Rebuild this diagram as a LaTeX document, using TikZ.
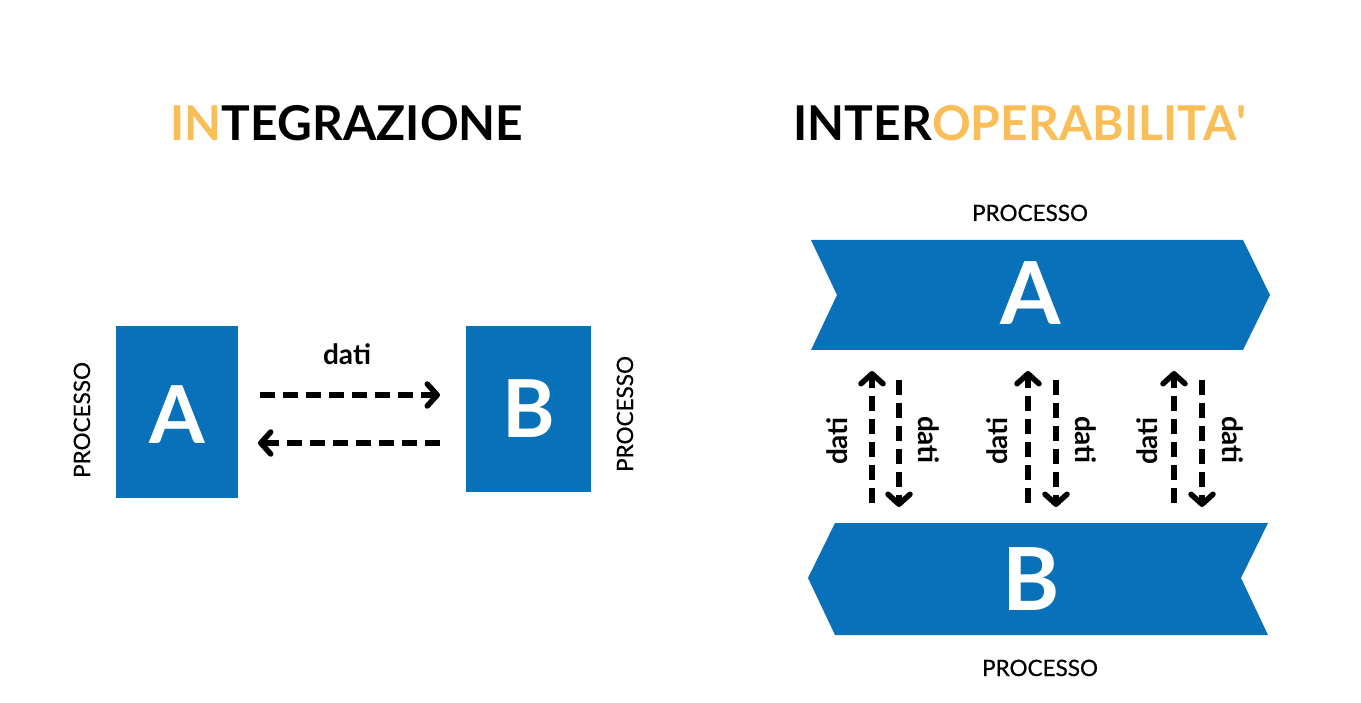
\documentclass[tikz,border=0pt]{standalone}
\usepackage{fontspec}
\setmainfont{Lato}
\newfontfamily\procfont[FakeBold=0.6]{Lato}
\usetikzlibrary{arrows.meta}
\definecolor{blu}{RGB}{9,113,185}
\definecolor{orng}{RGB}{250,190,88}
\tikzset{
  box/.style={fill=blu, draw=none, inner sep=0pt},
  bigletter/.style={text=white, font=\fontsize{80}{80}\selectfont\bfseries, anchor=base},
  shapeletter/.style={text=white, font=\fontsize{87}{87}\selectfont\bfseries, anchor=base},
  title/.style={font=\fontsize{48}{48}\selectfont\bfseries, anchor=base},
  proc/.style={font=\procfont\fontsize{22.5}{22.5}\selectfont, anchor=base},
  datilbl/.style={font=\fontsize{28}{28}\selectfont\bfseries, anchor=base},
  flow/.style={line width=5.5pt, dash pattern=on 15pt off 8pt,
    -{Straight Barb[round,length=10pt,width=22pt]}},
}
\begin{document}
\begin{tikzpicture}[x=1pt,y=-1pt]
\useasboundingbox (0,0) rectangle (1361,703);
% titles
\node[title] (t1) at (347,141) {\textcolor{orng}{IN}TEGRAZIONE};
\node[title] (t2) at (1020,141) {INTER\textcolor{orng}{OPERABILITA\textquotesingle}};
% left diagram
\node[box, minimum width=122pt, minimum height=172pt] (A) at (177,412) {};
\node[box, minimum width=125pt, minimum height=166pt] (B) at (528.5,409) {};
\node[bigletter] (la) at (177,443) {A};
\node[bigletter] (lb) at (529,438) {B};
\node[proc, rotate=90] (pa) at (90,420) {PROCESSO};
\node[proc, rotate=90] (pb) at (633,414) {PROCESSO};
\node[datilbl] (d0) at (347,365) {dati};
\coordinate (h1s) at (260,395);
\coordinate (h1e) at (440,395);
\coordinate (h2s) at (440,443);
\coordinate (h2e) at (258,443);
\draw[flow] (h1s) -- (h1e);
\draw[flow] (h2s) -- (h2e);
% right diagram
\fill[blu] (811,240) -- (1243,240) -- (1270,295) -- (1243,350) -- (811,350) -- (837,295) -- cycle;
\fill[blu] (835,523) -- (1268,523) -- (1241,578) -- (1268,635) -- (835,635) -- (808,578) -- cycle;
\node[shapeletter] (sa) at (1031,325) {A};
\node[shapeletter] (sb) at (1031,610) {B};
\node[proc] (pta) at (1030,221) {PROCESSO};
\node[proc] (ptb) at (1040,676) {PROCESSO};
% vertical arrows
\foreach \u/\d/\l/\r [count=\i] in {872/899/847/918, 1028/1056/1007/1075, 1174/1202/1157/1222}{
  \coordinate (us\i) at (\u,503);
  \coordinate (ue\i) at (\u,371);
  \coordinate (ds\i) at (\d,380);
  \coordinate (de\i) at (\d,507);
  \draw[flow] (us\i) -- (ue\i);
  \draw[flow] (ds\i) -- (de\i);
  \node[datilbl, rotate=90] (dl\i) at (\l,441) {dati};
  \node[datilbl, rotate=-90] (dr\i) at (\r,440) {dati};
}
\end{tikzpicture}
\end{document}
